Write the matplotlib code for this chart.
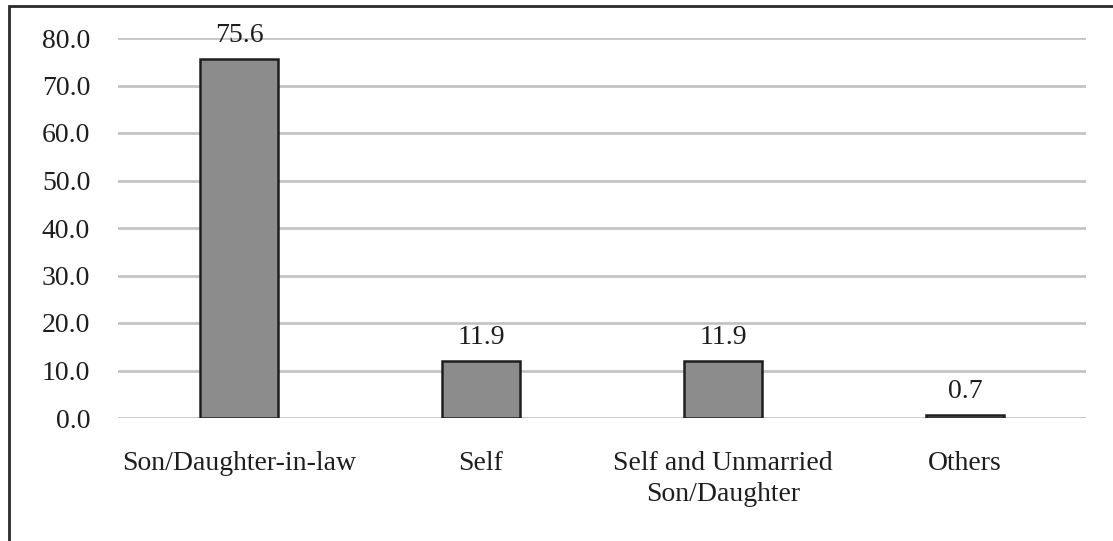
import matplotlib.pyplot as plt
from matplotlib.patches import Rectangle

categories = ['Son/Daughter-in-law', 'Self', 'Self and Unmarried\nSon/Daughter', 'Others']
values = [75.6, 11.9, 11.9, 0.7]
yticks = [0, 10, 20, 30, 40, 50, 60, 70, 80]

plt.rcParams['font.family'] = ['Liberation Serif', 'DejaVu Serif']

fig = plt.figure(figsize=(11.13, 5.41), dpi=100)
ax = fig.add_axes([118 / 1113, 1 - 418 / 541, 968 / 1113, 380 / 541])

x = range(len(categories))
bars = ax.bar(x, values, width=0.32, color='#8c8c8c', edgecolor='#1e1e1e',
              linewidth=1.8, zorder=3)
for b, v in zip(bars, values):
    ax.annotate(f'{v:.1f}', (b.get_x() + b.get_width() / 2, v),
                xytext=(0, 8), textcoords='offset points',
                ha='center', va='bottom', fontsize=20, color='#1e1e1e')

ax.set_xlim(-0.5, len(categories) - 0.5)
ax.set_ylim(0, 80)
ax.set_yticks(yticks)
ax.set_yticklabels([f'{t:.1f}' for t in yticks])
ax.set_xticks(list(x))
ax.set_xticklabels(categories, linespacing=1.3)
ax.tick_params(axis='both', length=0, labelsize=20, colors='#1e1e1e')
ax.tick_params(axis='y', pad=20)
ax.tick_params(axis='x', pad=24)
ax.yaxis.grid(True, color='#c4c4c4', linewidth=2, zorder=0)
ax.set_axisbelow(True)
for s in ax.spines.values():
    s.set_visible(False)

# outer frame (only left and top edges show in the original)
top = 1 - 6 / 541
fig.patches.append(Rectangle((9 / 1113, -0.2), 1.5, top + 0.2,
                             transform=fig.transFigure, fill=False,
                             edgecolor='#2a2a2a', linewidth=2))

fig.savefig('out.png', dpi=100, facecolor='white')
